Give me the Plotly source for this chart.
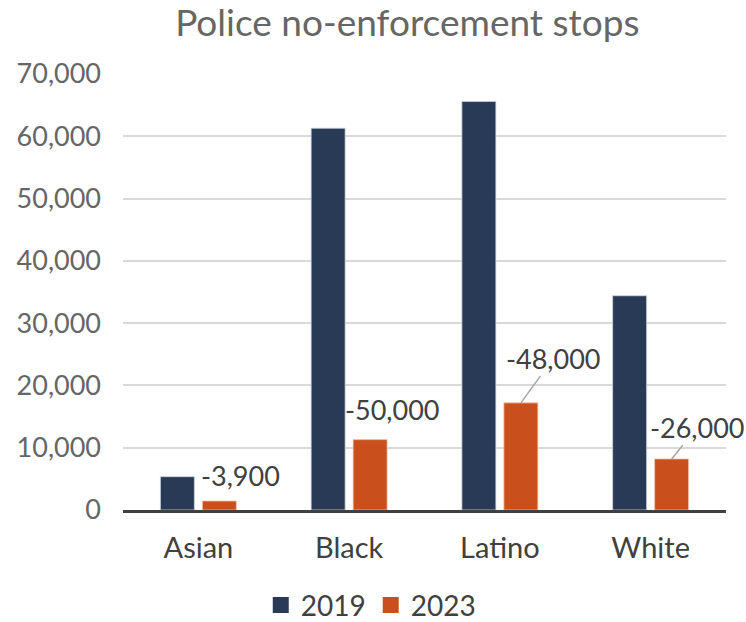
import plotly.graph_objects as go

categories = ["Asian", "Black", "Latino", "White"]
values_2019 = [5350, 61300, 65600, 34400]
values_2023 = [1450, 11300, 17200, 8200]
change_labels = ["-3,900", "-50,000", "-48,000", "-26,000"]
tick_values = [0, 10000, 20000, 30000, 40000, 50000, 60000, 70000]
tick_labels = ["0", "10,000", "20,000", "30,000", "40,000", "50,000", "60,000", "70,000"]
series_names = ["2019", "2023"]

NAVY = "#293a56"
ORANGE = "#c9501c"
FONT = "Lato"

fig = go.Figure()
fig.add_trace(go.Bar(x=categories, y=values_2019, name=series_names[0], showlegend=False,
                     legendgroup="a",
                     marker=dict(color=NAVY, line=dict(color="#d0d4da", width=0.8))))
fig.add_trace(go.Bar(x=categories, y=values_2023, name=series_names[1], showlegend=False,
                     legendgroup="b",
                     marker=dict(color=ORANGE, line=dict(color="#f0c8b0", width=0.8))))
# legend entries with larger square swatches
for nm, col, grp in zip(series_names, [NAVY, ORANGE], ["a", "b"]):
    fig.add_trace(go.Scatter(x=[None], y=[None], mode="markers", name=nm, legendgroup=grp,
                             marker=dict(symbol="square", size=17, color=col),
                             hoverinfo="skip"))

# label placement (pixel offsets from the 2023 bar top)
label_cfg = [
    dict(arrow=False, dx=42, dy=25),
    dict(arrow=False, dx=43, dy=30),
    dict(arrow=True, ax=32, ay=-44),
    dict(arrow=True, ax=25, ay=-31),
]
for cat, val, lab, cfg in zip(categories, values_2023, change_labels, label_cfg):
    if cfg["arrow"]:
        fig.add_annotation(x=cat, y=val, text=lab, showarrow=True, xshift=21,
                           ax=cfg["ax"], ay=cfg["ay"], arrowhead=0, arrowwidth=1.5,
                           arrowcolor="#a6a6a6", standoff=0, borderpad=0,
                           font=dict(family=FONT, size=27, color="#404040"))
    else:
        fig.add_annotation(x=cat, y=val, text=lab, showarrow=False,
                           xshift=cfg["dx"], yshift=cfg["dy"],
                           font=dict(family=FONT, size=27, color="#404040"))

fig.update_layout(
    width=746, height=622,
    margin=dict(l=123, r=20, t=74, b=112, autoexpand=False),
    paper_bgcolor="white", plot_bgcolor="white",
    font=dict(family=FONT, color="#404040"),
    title=dict(text="Police no-enforcement stops", x=0.546, xanchor="center",
               y=0.963, yanchor="middle", yref="container",
               font=dict(family=FONT, size=37, color="#666666")),
    barmode="group", bargap=0.443, bargroupgap=0.19,
    showlegend=True,
    legend=dict(orientation="h", x=0.497, xanchor="center", xref="container",
                y=0.027, yanchor="middle", yref="container",
                font=dict(family=FONT, size=28, color="#404040"),
                traceorder="normal", itemwidth=30),
    xaxis=dict(range=[-0.5, 3.5], autorange=False,
               showline=True, linecolor="#404040", linewidth=2.5, ticks="",
               tickfont=dict(family=FONT, size=29, color="#404040"),
               ticklabelstandoff=10),
    yaxis=dict(range=[0, 70000], tickvals=tick_values, ticktext=tick_labels,
               showgrid=True, gridcolor="#d9d9d9", gridwidth=1.5,
               zeroline=False, showline=False, ticks="",
               tickfont=dict(family=FONT, size=27, color="#666666"),
               ticklabelstandoff=21),
)

fig.write_html("out.html", config={"displayModeBar": False},
               post_script="document.body.style.margin='0';document.body.style.overflow='hidden';")
